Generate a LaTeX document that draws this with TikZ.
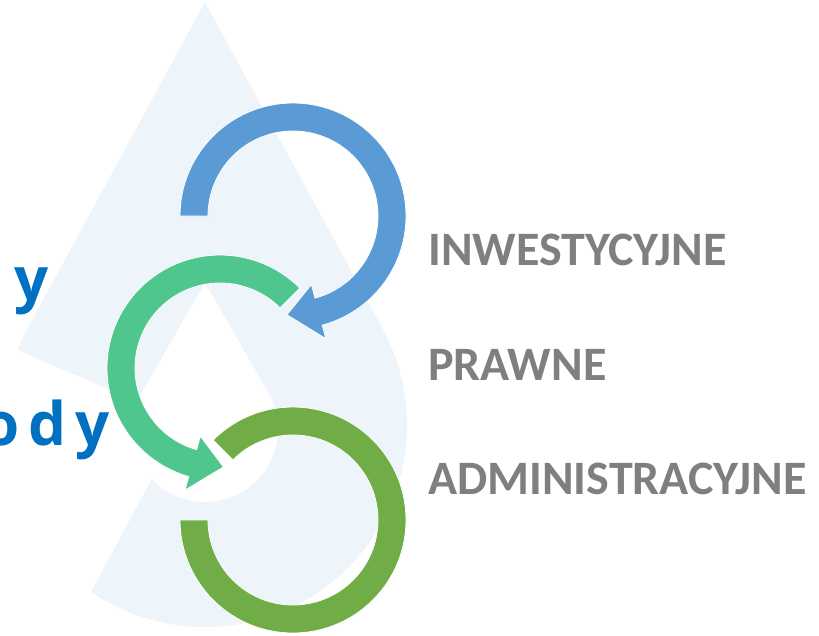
\documentclass[tikz,border=0pt]{standalone}
\usepackage{fontspec}
\setmainfont{Carlito}
\newfontfamily\titlefont{Open Sans}
\definecolor{dropblue}{HTML}{EDF4FA}
\definecolor{ringblue}{HTML}{5B9BD5}
\definecolor{ringteal}{HTML}{4FC68E}
\definecolor{ringgreen}{HTML}{70AD47}
\definecolor{labelgray}{HTML}{7F7F7F}
\definecolor{titleblue}{HTML}{0070C0}
\tikzset{ring/.style={draw=white,line width=0.8pt},
  lbl/.style={text=labelgray,font=\bfseries\fontsize{48}{48}\selectfont,anchor=base west,inner sep=0pt},
  ttl/.style={text=titleblue,font=\titlefont\bfseries\fontsize{60}{60}\selectfont,anchor=base east,inner sep=0pt}}

\begin{document}
\begin{tikzpicture}[x=1pt, y=1pt]
    \useasboundingbox (0,0) rectangle (819,-635);
    \coordinate (d) at (205,-425);
    \coordinate (w) at (205,-429);
    \coordinate (b) at (293,-216);
    \coordinate (g) at (220,-368);
    \coordinate (o) at (293,-520);

    \fill[dropblue] (205,-2) -- ([shift={(28.4:202)}]d) arc[start angle=28.4, end angle=-208.4, radius=202] -- cycle;
    \fill[white] (183,-421) -- (-20,-334) -- (-20,-640) -- (65,-640) -- cycle;
    \fill[white] (205,-283) -- ([shift={(30:73)}]w) arc[start angle=30, end angle=-210, radius=73] -- cycle;

    \node[ttl] (t1) at (49,-300) {y};
    \node[ttl] (t2) at (110,-445) {o\hspace{9pt}d\hspace{9pt}y};

    \filldraw[ring, fill=ringblue] ([shift={(180:113)}]b) arc[start angle=180, end angle=-75, radius=113]
        -- ([shift={(-75:127)}]b) -- ([shift={(-93.5:99)}]b) -- ([shift={(-75:71)}]b)
        -- ([shift={(-75:85)}]b) arc[start angle=-75, end angle=180, radius=85] -- cycle;
    \filldraw[ring, fill=ringteal] ([shift={(45:113)}]g) arc[start angle=45, end angle=254, radius=113]
        -- ([shift={(254:127)}]g) -- ([shift={(272:99)}]g) -- ([shift={(254:71)}]g)
        -- ([shift={(254:85)}]g) arc[start angle=254, end angle=45, radius=85] -- cycle;
    \filldraw[ring, fill=ringgreen] ([shift={(135:113)}]o) arc[start angle=135, end angle=-180, radius=113]
        -- ([shift={(180:85)}]o) arc[start angle=-180, end angle=135, radius=85] -- cycle;

    \node[lbl] (I) at (428,-265) {INWESTYCYJNE};
    \node[lbl] (P) at (428,-380) {PRAWNE};
    \node[lbl] (A) at (428,-494) {ADMINISTRACYJNE};
\end{tikzpicture}
\end{document}
